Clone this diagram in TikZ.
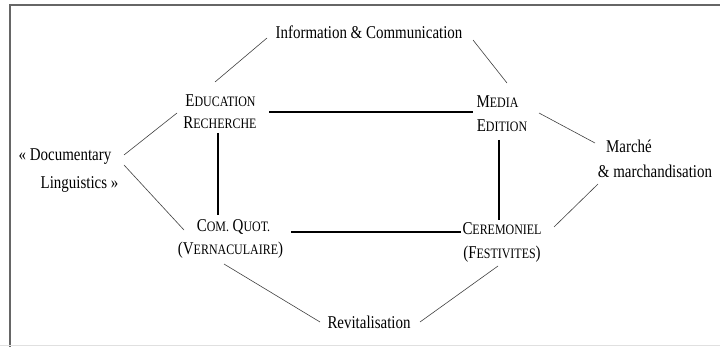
\documentclass[tikz,border=0pt]{standalone}
\usepackage{fontspec}
\usepackage{graphicx}
\setmainfont{Liberation Serif}
\newcommand\lbl[1]{\scalebox{0.83}[1]{#1}}
\newcommand\fsc[2]{#1{\fontsize{14.4}{14.4}\selectfont #2}}
\begin{document}
\begin{tikzpicture}[x=1pt,y=-1pt,
  txt/.style={anchor=base,inner sep=0pt,font=\fontsize{18}{18}\selectfont},
  thin/.style={draw=black!75,line width=0.6pt},
  thick/.style={draw=black,line width=2.3pt},
  frame/.style={draw=black!60,line width=1.4pt}]
\useasboundingbox (0,0) rectangle (720,347);
\draw[frame] (720,5) -- (10,5) -- (10,347);
\draw[draw=black!12,line width=1pt] (0,345.5) -- (720,345.5);
% texts
\node[txt] (info) at (369,39) {\lbl{Information \& Communication}};
\node[txt] (edu1) at (220.5,107) {\lbl{\fsc{E}{DUCATION}}};
\node[txt] (edu2) at (220,129) {\lbl{\fsc{R}{ECHERCHE}}};
\node[txt] (med1) at (497.5,108) {\lbl{\fsc{M}{EDIA}}};
\node[txt] (med2) at (502,132) {\lbl{\fsc{E}{DITION}}};
\node[txt] (doc1) at (65,161) {\lbl{« Documentary}};
\node[txt] (doc2) at (79.5,189) {\lbl{Linguistics »}};
\node[txt] (mar1) at (629,153) {\lbl{Marché}};
\node[txt] (mar2) at (655,178) {\lbl{\& marchandisation}};
\node[txt] (com1) at (233.5,232) {\lbl{\fsc{C}{OM.} \fsc{Q}{UOT.}}};
\node[txt] (com2) at (230.5,255) {\lbl{(\fsc{V}{ERNACULAIRE})}};
\node[txt] (cer1) at (502,235) {\lbl{\fsc{C}{EREMONIEL}}};
\node[txt] (cer2) at (502,259) {\lbl{(\fsc{F}{ESTIVITES})}};
\node[txt] (rev) at (369,328) {\lbl{Revitalisation}};
% connector end points
\coordinate (a1) at (215,82);  \coordinate (a2) at (267,38);
\coordinate (b1) at (473,40);  \coordinate (b2) at (507,83);
\coordinate (c1) at (177,113); \coordinate (c2) at (124,155);
\coordinate (d1) at (124,165); \coordinate (d2) at (184,230);
\coordinate (e1) at (539,113); \coordinate (e2) at (595,143);
\coordinate (f1) at (598,184); \coordinate (f2) at (554,227);
\coordinate (g1) at (224,264); \coordinate (g2) at (320,322);
\coordinate (h1) at (498,266); \coordinate (h2) at (420,322);
\coordinate (t1) at (269,112); \coordinate (t2) at (473,112);
\coordinate (l1) at (218,133); \coordinate (l2) at (218,215);
\coordinate (r1) at (499,140); \coordinate (r2) at (499,220);
\coordinate (u1) at (291,232); \coordinate (u2) at (461,232);
\draw[thin] (a1) -- (a2);
\draw[thin] (b1) -- (b2);
\draw[thin] (c1) -- (c2);
\draw[thin] (d1) -- (d2);
\draw[thin] (e1) -- (e2);
\draw[thin] (f1) -- (f2);
\draw[thin] (g1) -- (g2);
\draw[thin] (h1) -- (h2);
\draw[thick] (t1) -- (t2);
\draw[thick] (l1) -- (l2);
\draw[thick] (r1) -- (r2);
\draw[thick] (u1) -- (u2);
\end{tikzpicture}
\end{document}
